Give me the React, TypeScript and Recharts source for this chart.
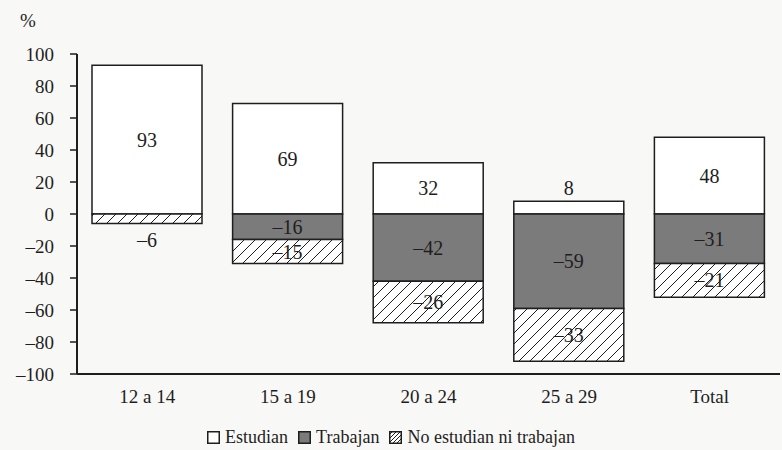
import React from "react";
import { Bar, BarChart, LabelList, XAxis, YAxis } from "recharts";

const categories = ["12 a 14", "15 a 19", "20 a 24", "25 a 29", "Total"];
const estudian = [93, 69, 32, 8, 48];
const trabajan = [0, -16, -42, -59, -31];
const noEstudianNiTrabajan = [-6, -15, -26, -33, -21];
const yTicks = [-100, -80, -60, -40, -20, 0, 20, 40, 60, 80, 100];

const data = categories.map((c, i) => ({
  name: c,
  estudian: estudian[i],
  trabajan: trabajan[i] === 0 ? null : trabajan[i],
  noEst: noEstudianNiTrabajan[i],
}));

const FONT = "'Liberation Serif', 'DejaVu Serif', serif";
const INK = "#1e1e1e";
const GRAY = "#7b7b7b";

const fmt = (v: number) => (v < 0 ? "\u2013" + Math.abs(v) : String(v));

function SegmentLabel(props: any) {
  const { x, y, width, height, value } = props;
  if (value == null || value === 0) return null;
  const top = Math.min(y, y + height);
  const h = Math.abs(height);
  const cx = x + width / 2;
  let cy = top + h / 2;
  if (h < 20) {
    cy = value > 0 ? top - 13 : top + h + 16;
  }
  return (
    <text
      x={cx}
      y={cy}
      textAnchor="middle"
      dominantBaseline="central"
      fontFamily={FONT}
      fontSize={20}
      fill={INK}
    >
      {fmt(value)}
    </text>
  );
}

function LegendBox() {
  const sw = (bg: string, hatch = false) => (
    <svg width={13} height={13} style={{ marginRight: 5, verticalAlign: "-1px" }}>
      <rect x={0.75} y={0.75} width={11.5} height={11.5} fill={hatch ? "url(#hatchSmall)" : bg} stroke={INK} strokeWidth={1.5} />
    </svg>
  );
  return (
    <div style={{ fontFamily: FONT, fontSize: 18, color: INK, textAlign: "center", whiteSpace: "nowrap" }}>
      <svg width={0} height={0} style={{ position: "absolute" }}>
        <defs>
          <pattern id="hatchSmall" patternUnits="userSpaceOnUse" width={4} height={4}>
            <rect width={4} height={4} fill="#fff" />
            <path d="M-1,1 l2,-2 M0,4 l4,-4 M3,5 l2,-2" stroke={INK} strokeWidth={1} />
          </pattern>
        </defs>
      </svg>
      <span style={{ marginRight: 10 }}>{sw("#fff")}Estudian</span>
      <span style={{ marginRight: 10 }}>{sw(GRAY)}Trabajan</span>
      <span>{sw("", true)}No estudian ni trabajan</span>
    </div>
  );
}

export default function App() {
  return (
    <div style={{ position: "absolute", left: 0, top: 0, width: 782, height: 450, background: "#f8f8f6" }}>
      <div style={{ position: "absolute", left: 20, top: 10, fontFamily: FONT, fontSize: 19, color: INK }}>%</div>
      <BarChart
        width={782}
        height={450}
        data={data}
        stackOffset="sign"
        margin={{ top: 54, right: 2, bottom: 46, left: 0 }}
      >
        <defs>
          <pattern id="hatch" patternUnits="userSpaceOnUse" width={11} height={11}>
            <rect width={11} height={11} fill="#fff" />
            <path d="M-1,1 l2,-2 M0,11 l11,-11 M10,12 l2,-2" stroke={INK} strokeWidth={1} />
          </pattern>
        </defs>
        <YAxis
          domain={[-100, 100]}
          ticks={yTicks}
          interval={0}
          width={77}
          tickFormatter={fmt}
          axisLine={{ stroke: INK, strokeWidth: 2 }}
          tickLine={{ stroke: INK, strokeWidth: 1.5 }}
          tickSize={7}
          tickMargin={16}
          tick={{ fontFamily: FONT, fontSize: 19, fill: INK }}
        />
        <XAxis
          dataKey="name"
          axisLine={{ stroke: INK, strokeWidth: 2 }}
          tickLine={false}
          tickMargin={10}
          tick={{ fontFamily: FONT, fontSize: 19, fill: INK }}
        />
        <Bar dataKey="estudian" stackId="a" barSize={110} fill="#fff" stroke={INK} strokeWidth={1.5} isAnimationActive={false}>
          <LabelList dataKey="estudian" content={SegmentLabel} />
        </Bar>
        <Bar dataKey="trabajan" stackId="a" barSize={110} fill={GRAY} stroke={INK} strokeWidth={1.5} isAnimationActive={false}>
          <LabelList dataKey="trabajan" content={SegmentLabel} />
        </Bar>
        <Bar dataKey="noEst" stackId="a" barSize={110} fill="url(#hatch)" stroke={INK} strokeWidth={1.5} isAnimationActive={false}>
          <LabelList dataKey="noEst" content={SegmentLabel} />
        </Bar>
      </BarChart>
      <div style={{ position: "absolute", left: 0, width: 782, top: 427 }}>
        <LegendBox />
      </div>
    </div>
  );
}
